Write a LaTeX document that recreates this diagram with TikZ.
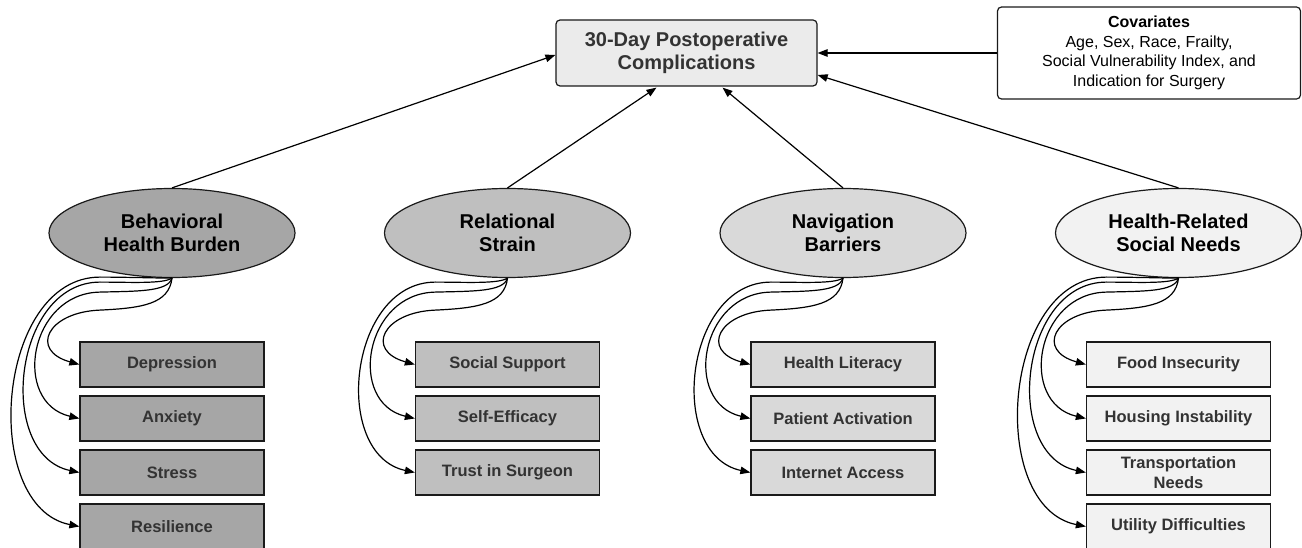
\documentclass[tikz,border=0pt]{standalone}
\usepackage{fontspec}
\setmainfont{Liberation Sans}
\usetikzlibrary{shapes.geometric,arrows.meta,calc}

\definecolor{fillA}{HTML}{A6A6A6}
\definecolor{fillB}{HTML}{BFBFBF}
\definecolor{fillC}{HTML}{D9D9D9}
\definecolor{fillD}{HTML}{F2F2F2}
\definecolor{fillTop}{HTML}{EBEBEB}
\definecolor{txtgray}{HTML}{333333}
\definecolor{edge}{HTML}{1A1A1A}

\tikzset{
  arr/.style={line width=1.2pt, draw=black, -{Triangle[length=10pt,width=7.5pt]}},
  latent/.style={ellipse, draw=edge, line width=1.2pt, minimum width=246pt,
    minimum height=89pt, inner sep=0pt, align=center,
    font=\fontsize{20}{23}\selectfont\bfseries},
  itembox/.style={rectangle, draw=edge, line width=1.3pt, minimum width=184pt,
    minimum height=45pt, inner sep=0pt, align=center, text=txtgray,
    font=\fontsize{16.5}{20}\selectfont\bfseries},
  outcome/.style={rectangle, rounded corners=4pt, draw=edge, line width=1.2pt,
    fill=fillTop, minimum width=261pt, minimum height=66pt, align=center,
    text=txtgray, font=\fontsize{20}{22.5}\selectfont\bfseries},
  covbox/.style={rectangle, rounded corners=4pt, draw=edge, line width=1.2pt,
    fill=white, minimum width=303pt, minimum height=92pt, align=center,
    font=\fontsize{16}{19.5}\selectfont},
}

% looping connector from a latent node to its k-th indicator
\newcommand{\loopA}[2]{\draw[arr] (#1.south) .. controls +(-3,26) and +(42,-2) .. ++(-72,32) .. controls +(-53,2) and +(-50,-14) .. (#2.west);}
\newcommand{\loopB}[2]{\draw[arr] (#1.south) .. controls +(-4,14) and +(36,-1) .. ++(-72,14) .. controls +(-71,1) and +(-68,-16) .. (#2.west);}
\newcommand{\loopC}[2]{\draw[arr] (#1.south) .. controls +(-9,6) and +(30,0) .. ++(-72,4) .. controls +(-87,0) and +(-84,-18) .. (#2.west);}
\newcommand{\loopD}[2]{\draw[arr] (#1.south) .. controls +(-15,0) and +(26,0) .. ++(-72,-1) .. controls +(-104,0) and +(-100,-20) .. (#2.west);}

\begin{document}
\begin{tikzpicture}[x=1pt,y=-1pt]
\useasboundingbox (0,0) rectangle (1302,548);

% outcome and covariates
\node[outcome] (top) at (686.5,53) {30-Day Postoperative\\Complications};
\node[covbox] (cov) at (1149,53) {\textbf{Covariates}\\Age, Sex, Race, Frailty,\\Social Vulnerability Index, and\\Indication for Surgery};

% latent constructs
\node[latent, fill=fillA] (e1) at (172,233) {Behavioral\\Health Burden};
\node[latent, fill=fillB] (e2) at (507.5,233) {Relational\\Strain};
\node[latent, fill=fillC] (e3) at (843,233) {Navigation\\Barriers};
\node[latent, fill=fillD] (e4) at (1178.5,233) {Health-Related\\Social Needs};

% indicators
\node[itembox, fill=fillA] (a1) at (172,364.5) {Depression};
\node[itembox, fill=fillA] (a2) at (172,418.5) {Anxiety};
\node[itembox, fill=fillA] (a3) at (172,472.5) {Stress};
\node[itembox, fill=fillA] (a4) at (172,526.5) {Resilience};

\node[itembox, fill=fillB] (b1) at (507.5,364.5) {Social Support};
\node[itembox, fill=fillB] (b2) at (507.5,418.5) {Self-Efficacy};
\node[itembox, fill=fillB] (b3) at (507.5,472.5) {Trust in Surgeon};

\node[itembox, fill=fillC] (c1) at (843,364.5) {Health Literacy};
\node[itembox, fill=fillC] (c2) at (843,418.5) {Patient Activation};
\node[itembox, fill=fillC] (c3) at (843,472.5) {Internet Access};

\node[itembox, fill=fillD] (d1) at (1178.5,364.5) {Food Insecurity};
\node[itembox, fill=fillD] (d2) at (1178.5,418.5) {Housing Instability};
\node[itembox, fill=fillD] (d3) at (1178.5,472.5) {Transportation\\Needs};
\node[itembox, fill=fillD] (d4) at (1178.5,526.5) {Utility Difficulties};

% structural paths
\draw[arr] (cov.west) -- (top.east);
\draw[arr] (e1.north) -- ($(top.west)+(0,2)$);
\draw[arr] (e2.north) -- ($(top.south)+(-30,1)$);
\draw[arr] (e3.north) -- ($(top.south)+(36,1)$);
\draw[arr] (e4.north) -- ($(top.east)+(0,22)$);

% measurement paths
\loopA{e1}{a1}\loopB{e1}{a2}\loopC{e1}{a3}\loopD{e1}{a4}
\loopA{e2}{b1}\loopB{e2}{b2}\loopC{e2}{b3}
\loopA{e3}{c1}\loopB{e3}{c2}\loopC{e3}{c3}
\loopA{e4}{d1}\loopB{e4}{d2}\loopC{e4}{d3}\loopD{e4}{d4}
\end{tikzpicture}
\end{document}
